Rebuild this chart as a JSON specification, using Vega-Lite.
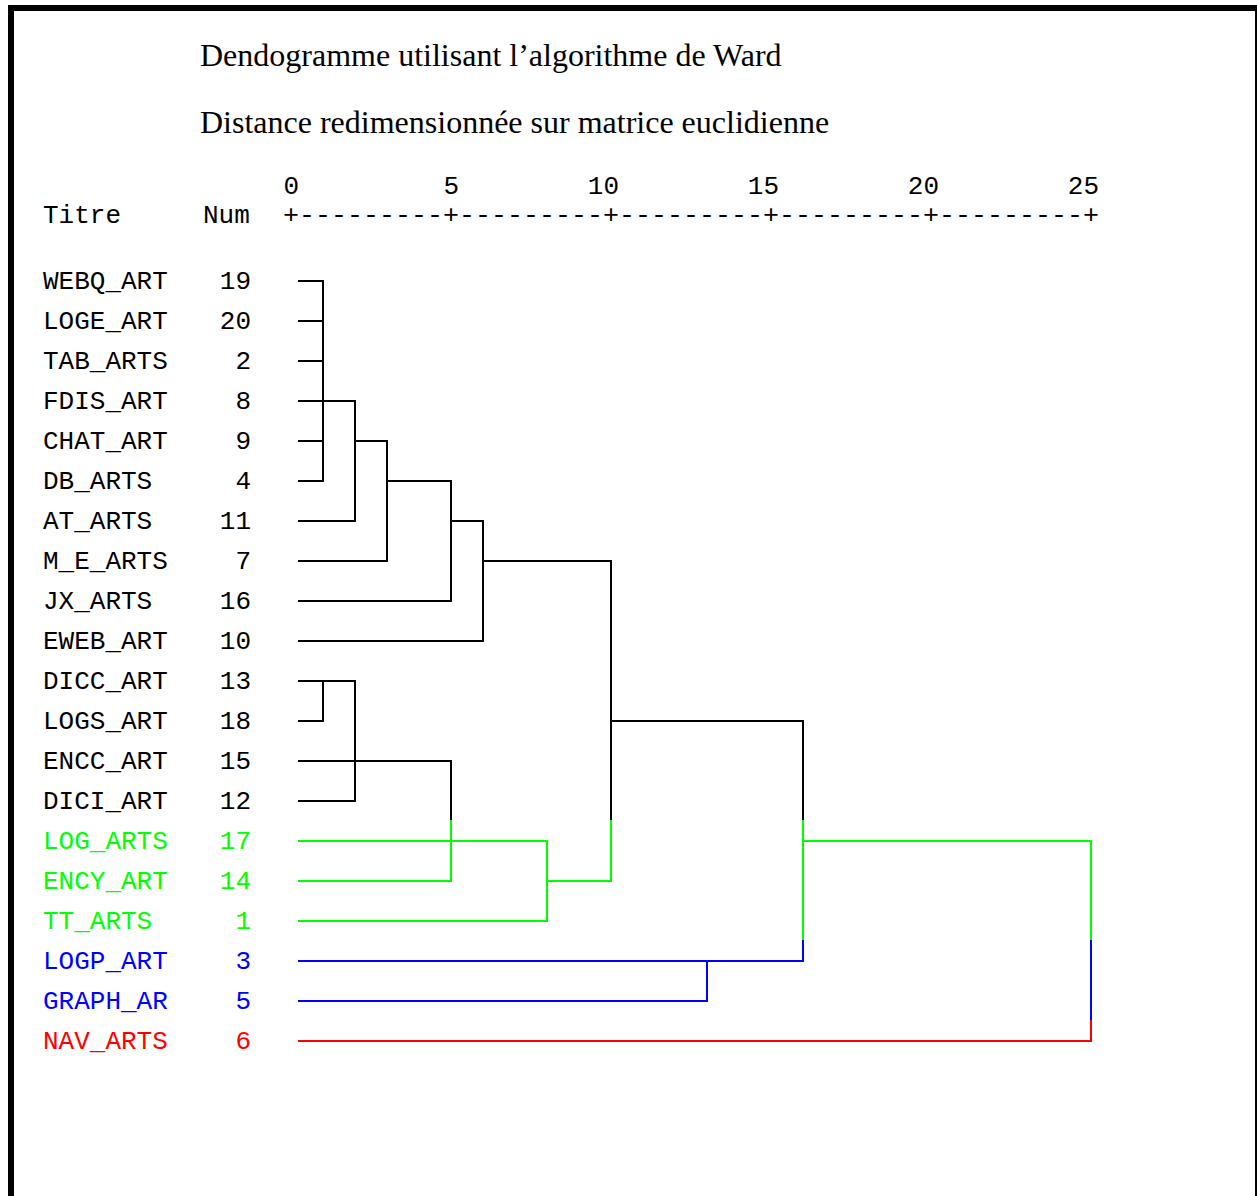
{
  "$schema": "https://vega.github.io/schema/vega-lite/v6.json",
  "width": 1257,
  "height": 1196,
  "autosize": "none",
  "padding": 0,
  "background": "white",
  "config": {"view": {"stroke": null}},
  "datasets": {
    "ticks": [
      {"tick": 0}, {"tick": 5}, {"tick": 10}, {"tick": 15}, {"tick": 20}, {"tick": 25}
    ],
    "leaves": [
      {"row": 1, "name": "WEBQ_ART", "num": "19", "grp": "noir"},
      {"row": 2, "name": "LOGE_ART", "num": "20", "grp": "noir"},
      {"row": 3, "name": "TAB_ARTS", "num": "2", "grp": "noir"},
      {"row": 4, "name": "FDIS_ART", "num": "8", "grp": "noir"},
      {"row": 5, "name": "CHAT_ART", "num": "9", "grp": "noir"},
      {"row": 6, "name": "DB_ARTS", "num": "4", "grp": "noir"},
      {"row": 7, "name": "AT_ARTS", "num": "11", "grp": "noir"},
      {"row": 8, "name": "M_E_ARTS", "num": "7", "grp": "noir"},
      {"row": 9, "name": "JX_ARTS", "num": "16", "grp": "noir"},
      {"row": 10, "name": "EWEB_ART", "num": "10", "grp": "noir"},
      {"row": 11, "name": "DICC_ART", "num": "13", "grp": "noir"},
      {"row": 12, "name": "LOGS_ART", "num": "18", "grp": "noir"},
      {"row": 13, "name": "ENCC_ART", "num": "15", "grp": "noir"},
      {"row": 14, "name": "DICI_ART", "num": "12", "grp": "noir"},
      {"row": 15, "name": "LOG_ARTS", "num": "17", "grp": "vert"},
      {"row": 16, "name": "ENCY_ART", "num": "14", "grp": "vert"},
      {"row": 17, "name": "TT_ARTS", "num": "1", "grp": "vert"},
      {"row": 18, "name": "LOGP_ART", "num": "3", "grp": "bleu"},
      {"row": 19, "name": "GRAPH_AR", "num": "5", "grp": "bleu"},
      {"row": 20, "name": "NAV_ARTS", "num": "6", "grp": "rouge"}
    ],
    "segments": [
      {"x": 0.25, "x2": 1, "y": 1, "y2": 1, "grp": "noir"},
      {"x": 0.25, "x2": 1, "y": 2, "y2": 2, "grp": "noir"},
      {"x": 0.25, "x2": 1, "y": 3, "y2": 3, "grp": "noir"},
      {"x": 0.25, "x2": 1, "y": 4, "y2": 4, "grp": "noir"},
      {"x": 0.25, "x2": 1, "y": 5, "y2": 5, "grp": "noir"},
      {"x": 0.25, "x2": 1, "y": 6, "y2": 6, "grp": "noir"},
      {"x": 1, "x2": 1, "y": 1, "y2": 6, "grp": "noir"},
      {"x": 1, "x2": 2, "y": 4, "y2": 4, "grp": "noir"},
      {"x": 0.25, "x2": 2, "y": 7, "y2": 7, "grp": "noir"},
      {"x": 2, "x2": 2, "y": 4, "y2": 7, "grp": "noir"},
      {"x": 2, "x2": 3, "y": 5, "y2": 5, "grp": "noir"},
      {"x": 0.25, "x2": 3, "y": 8, "y2": 8, "grp": "noir"},
      {"x": 3, "x2": 3, "y": 5, "y2": 8, "grp": "noir"},
      {"x": 3, "x2": 5, "y": 6, "y2": 6, "grp": "noir"},
      {"x": 0.25, "x2": 5, "y": 9, "y2": 9, "grp": "noir"},
      {"x": 5, "x2": 5, "y": 6, "y2": 9, "grp": "noir"},
      {"x": 5, "x2": 6, "y": 7, "y2": 7, "grp": "noir"},
      {"x": 0.25, "x2": 6, "y": 10, "y2": 10, "grp": "noir"},
      {"x": 6, "x2": 6, "y": 7, "y2": 10, "grp": "noir"},
      {"x": 6, "x2": 10, "y": 8, "y2": 8, "grp": "noir"},
      {"x": 10, "x2": 10, "y": 8, "y2": 14.5, "grp": "noir"},
      {"x": 0.25, "x2": 2, "y": 11, "y2": 11, "grp": "noir"},
      {"x": 0.25, "x2": 1, "y": 12, "y2": 12, "grp": "noir"},
      {"x": 1, "x2": 1, "y": 11, "y2": 12, "grp": "noir"},
      {"x": 0.25, "x2": 5, "y": 13, "y2": 13, "grp": "noir"},
      {"x": 0.25, "x2": 2, "y": 14, "y2": 14, "grp": "noir"},
      {"x": 2, "x2": 2, "y": 11, "y2": 14, "grp": "noir"},
      {"x": 5, "x2": 5, "y": 13, "y2": 14.5, "grp": "noir"},
      {"x": 10, "x2": 16, "y": 12, "y2": 12, "grp": "noir"},
      {"x": 16, "x2": 16, "y": 12, "y2": 14.5, "grp": "noir"},
      {"x": 0.25, "x2": 8, "y": 15, "y2": 15, "grp": "vert"},
      {"x": 0.25, "x2": 5, "y": 16, "y2": 16, "grp": "vert"},
      {"x": 5, "x2": 5, "y": 14.5, "y2": 16, "grp": "vert"},
      {"x": 0.25, "x2": 8, "y": 17, "y2": 17, "grp": "vert"},
      {"x": 8, "x2": 8, "y": 15, "y2": 17, "grp": "vert"},
      {"x": 8, "x2": 10, "y": 16, "y2": 16, "grp": "vert"},
      {"x": 10, "x2": 10, "y": 14.5, "y2": 16, "grp": "vert"},
      {"x": 16, "x2": 16, "y": 14.5, "y2": 17.5, "grp": "vert"},
      {"x": 16, "x2": 25, "y": 15, "y2": 15, "grp": "vert"},
      {"x": 25, "x2": 25, "y": 15, "y2": 17.5, "grp": "vert"},
      {"x": 0.25, "x2": 16, "y": 18, "y2": 18, "grp": "bleu"},
      {"x": 0.25, "x2": 13, "y": 19, "y2": 19, "grp": "bleu"},
      {"x": 13, "x2": 13, "y": 18, "y2": 19, "grp": "bleu"},
      {"x": 16, "x2": 16, "y": 17.5, "y2": 18, "grp": "bleu"},
      {"x": 25, "x2": 25, "y": 17.5, "y2": 19.5, "grp": "bleu"},
      {"x": 0.25, "x2": 25, "y": 20, "y2": 20, "grp": "rouge"},
      {"x": 25, "x2": 25, "y": 19.5, "y2": 20, "grp": "rouge"}
    ]
  },
  "layer": [
    {
      "data": {"name": "segments"},
      "mark": {"type": "rule", "strokeWidth": 2, "strokeCap": "square"},
      "encoding": {
        "x": {"field": "x", "type": "quantitative", "scale": {"domain": [-9.09375, 30.1875], "nice": false, "zero": false}, "axis": null},
        "x2": {"field": "x2"},
        "y": {"field": "y", "type": "quantitative", "scale": {"domain": [-6.025, 23.875], "nice": false, "zero": false, "reverse": true}, "axis": null},
        "y2": {"field": "y2"},
        "color": {"field": "grp", "type": "nominal", "scale": {"domain": ["noir", "vert", "bleu", "rouge"], "range": ["#000000", "#00ff00", "#0000ff", "#ff0000"]}, "legend": null}
      }
    },
    {
      "data": {"name": "ticks"},
      "mark": {"type": "text", "align": "right", "baseline": "alphabetic", "dx": 8, "font": "Liberation Mono", "fontSize": 26, "color": "#000000"},
      "encoding": {
        "x": {"field": "tick", "type": "quantitative", "scale": {"domain": [-9.09375, 30.1875], "nice": false, "zero": false}, "axis": null},
        "y": {"datum": -1.175, "type": "quantitative", "scale": {"domain": [-6.025, 23.875], "nice": false, "zero": false, "reverse": true}, "axis": null},
        "text": {"field": "tick", "type": "quantitative", "format": "d"}
      }
    },
    {
      "data": {"name": "leaves"},
      "mark": {"type": "text", "align": "left", "baseline": "alphabetic", "dy": 8, "font": "Liberation Mono", "fontSize": 26},
      "encoding": {
        "x": {"datum": -7.75, "type": "quantitative", "scale": {"domain": [-9.09375, 30.1875], "nice": false, "zero": false}, "axis": null},
        "y": {"field": "row", "type": "quantitative", "scale": {"domain": [-6.025, 23.875], "nice": false, "zero": false, "reverse": true}, "axis": null},
        "text": {"field": "name"},
        "color": {"field": "grp", "type": "nominal", "scale": {"domain": ["noir", "vert", "bleu", "rouge"], "range": ["#000000", "#00ff00", "#0000ff", "#ff0000"]}, "legend": null}
      }
    },
    {
      "data": {"name": "leaves"},
      "mark": {"type": "text", "align": "right", "baseline": "alphabetic", "dy": 8, "font": "Liberation Mono", "fontSize": 26},
      "encoding": {
        "x": {"datum": -1.25, "type": "quantitative", "scale": {"domain": [-9.09375, 30.1875], "nice": false, "zero": false}, "axis": null},
        "y": {"field": "row", "type": "quantitative", "scale": {"domain": [-6.025, 23.875], "nice": false, "zero": false, "reverse": true}, "axis": null},
        "text": {"field": "num"},
        "color": {"field": "grp", "type": "nominal", "scale": {"domain": ["noir", "vert", "bleu", "rouge"], "range": ["#000000", "#00ff00", "#0000ff", "#ff0000"]}, "legend": null}
      }
    },
    {
      "data": {"values": [{}]},
      "mark": {"type": "text", "text": "Titre", "align": "left", "baseline": "alphabetic", "font": "Liberation Mono", "fontSize": 26, "color": "#000000"},
      "encoding": {
        "x": {"datum": -7.75, "type": "quantitative", "scale": {"domain": [-9.09375, 30.1875], "nice": false, "zero": false}, "axis": null},
        "y": {"datum": -0.45, "type": "quantitative", "scale": {"domain": [-6.025, 23.875], "nice": false, "zero": false, "reverse": true}, "axis": null}
      }
    },
    {
      "data": {"values": [{}]},
      "mark": {"type": "text", "text": "Num", "align": "left", "baseline": "alphabetic", "font": "Liberation Mono", "fontSize": 26, "color": "#000000"},
      "encoding": {
        "x": {"datum": -2.75, "type": "quantitative", "scale": {"domain": [-9.09375, 30.1875], "nice": false, "zero": false}, "axis": null},
        "y": {"datum": -0.45, "type": "quantitative", "scale": {"domain": [-6.025, 23.875], "nice": false, "zero": false, "reverse": true}, "axis": null}
      }
    },
    {
      "data": {"values": [{}]},
      "mark": {"type": "text", "text": "+---------+---------+---------+---------+---------+", "align": "center", "baseline": "alphabetic", "font": "Liberation Mono", "fontSize": 26.67, "color": "#000000"},
      "encoding": {
        "x": {"datum": 12.5, "type": "quantitative", "scale": {"domain": [-9.09375, 30.1875], "nice": false, "zero": false}, "axis": null},
        "y": {"datum": -0.45, "type": "quantitative", "scale": {"domain": [-6.025, 23.875], "nice": false, "zero": false, "reverse": true}, "axis": null}
      }
    },
    {
      "data": {"values": [{}]},
      "mark": {"type": "text", "text": "Dendogramme utilisant l’algorithme de Ward", "align": "left", "baseline": "alphabetic", "font": "Liberation Serif", "fontSize": 32, "color": "#000000"},
      "encoding": {
        "x": {"datum": -2.84375, "type": "quantitative", "scale": {"domain": [-9.09375, 30.1875], "nice": false, "zero": false}, "axis": null},
        "y": {"datum": -4.375, "type": "quantitative", "scale": {"domain": [-6.025, 23.875], "nice": false, "zero": false, "reverse": true}, "axis": null}
      }
    },
    {
      "data": {"values": [{}]},
      "mark": {"type": "text", "text": "Distance redimensionnée sur matrice euclidienne", "align": "left", "baseline": "alphabetic", "font": "Liberation Serif", "fontSize": 32, "color": "#000000"},
      "encoding": {
        "x": {"datum": -2.84375, "type": "quantitative", "scale": {"domain": [-9.09375, 30.1875], "nice": false, "zero": false}, "axis": null},
        "y": {"datum": -2.7, "type": "quantitative", "scale": {"domain": [-6.025, 23.875], "nice": false, "zero": false, "reverse": true}, "axis": null}
      }
    },
    {
      "data": {"values": [{}]},
      "mark": {"type": "rule", "strokeWidth": 6, "color": "#000000"},
      "encoding": {
        "x": {"datum": -8.75, "type": "quantitative", "scale": {"domain": [-9.09375, 30.1875], "nice": false, "zero": false}, "axis": null},
        "y": {"datum": -5.9, "type": "quantitative", "scale": {"domain": [-6.025, 23.875], "nice": false, "zero": false, "reverse": true}, "axis": null},
        "y2": {"datum": 23.875}
      }
    },
    {
      "data": {"values": [{}]},
      "mark": {"type": "rule", "strokeWidth": 6, "color": "#000000"},
      "encoding": {
        "x": {"datum": -8.84375, "type": "quantitative", "scale": {"domain": [-9.09375, 30.1875], "nice": false, "zero": false}, "axis": null},
        "x2": {"datum": 30.1875},
        "y": {"datum": -5.825, "type": "quantitative", "scale": {"domain": [-6.025, 23.875], "nice": false, "zero": false, "reverse": true}, "axis": null}
      }
    },
    {
      "data": {"values": [{}]},
      "mark": {"type": "rule", "strokeWidth": 2, "color": "#000000"},
      "encoding": {
        "x": {"datum": 30.15625, "type": "quantitative", "scale": {"domain": [-9.09375, 30.1875], "nice": false, "zero": false}, "axis": null},
        "y": {"datum": -5.9, "type": "quantitative", "scale": {"domain": [-6.025, 23.875], "nice": false, "zero": false, "reverse": true}, "axis": null},
        "y2": {"datum": 23.875}
      }
    }
  ]
}
